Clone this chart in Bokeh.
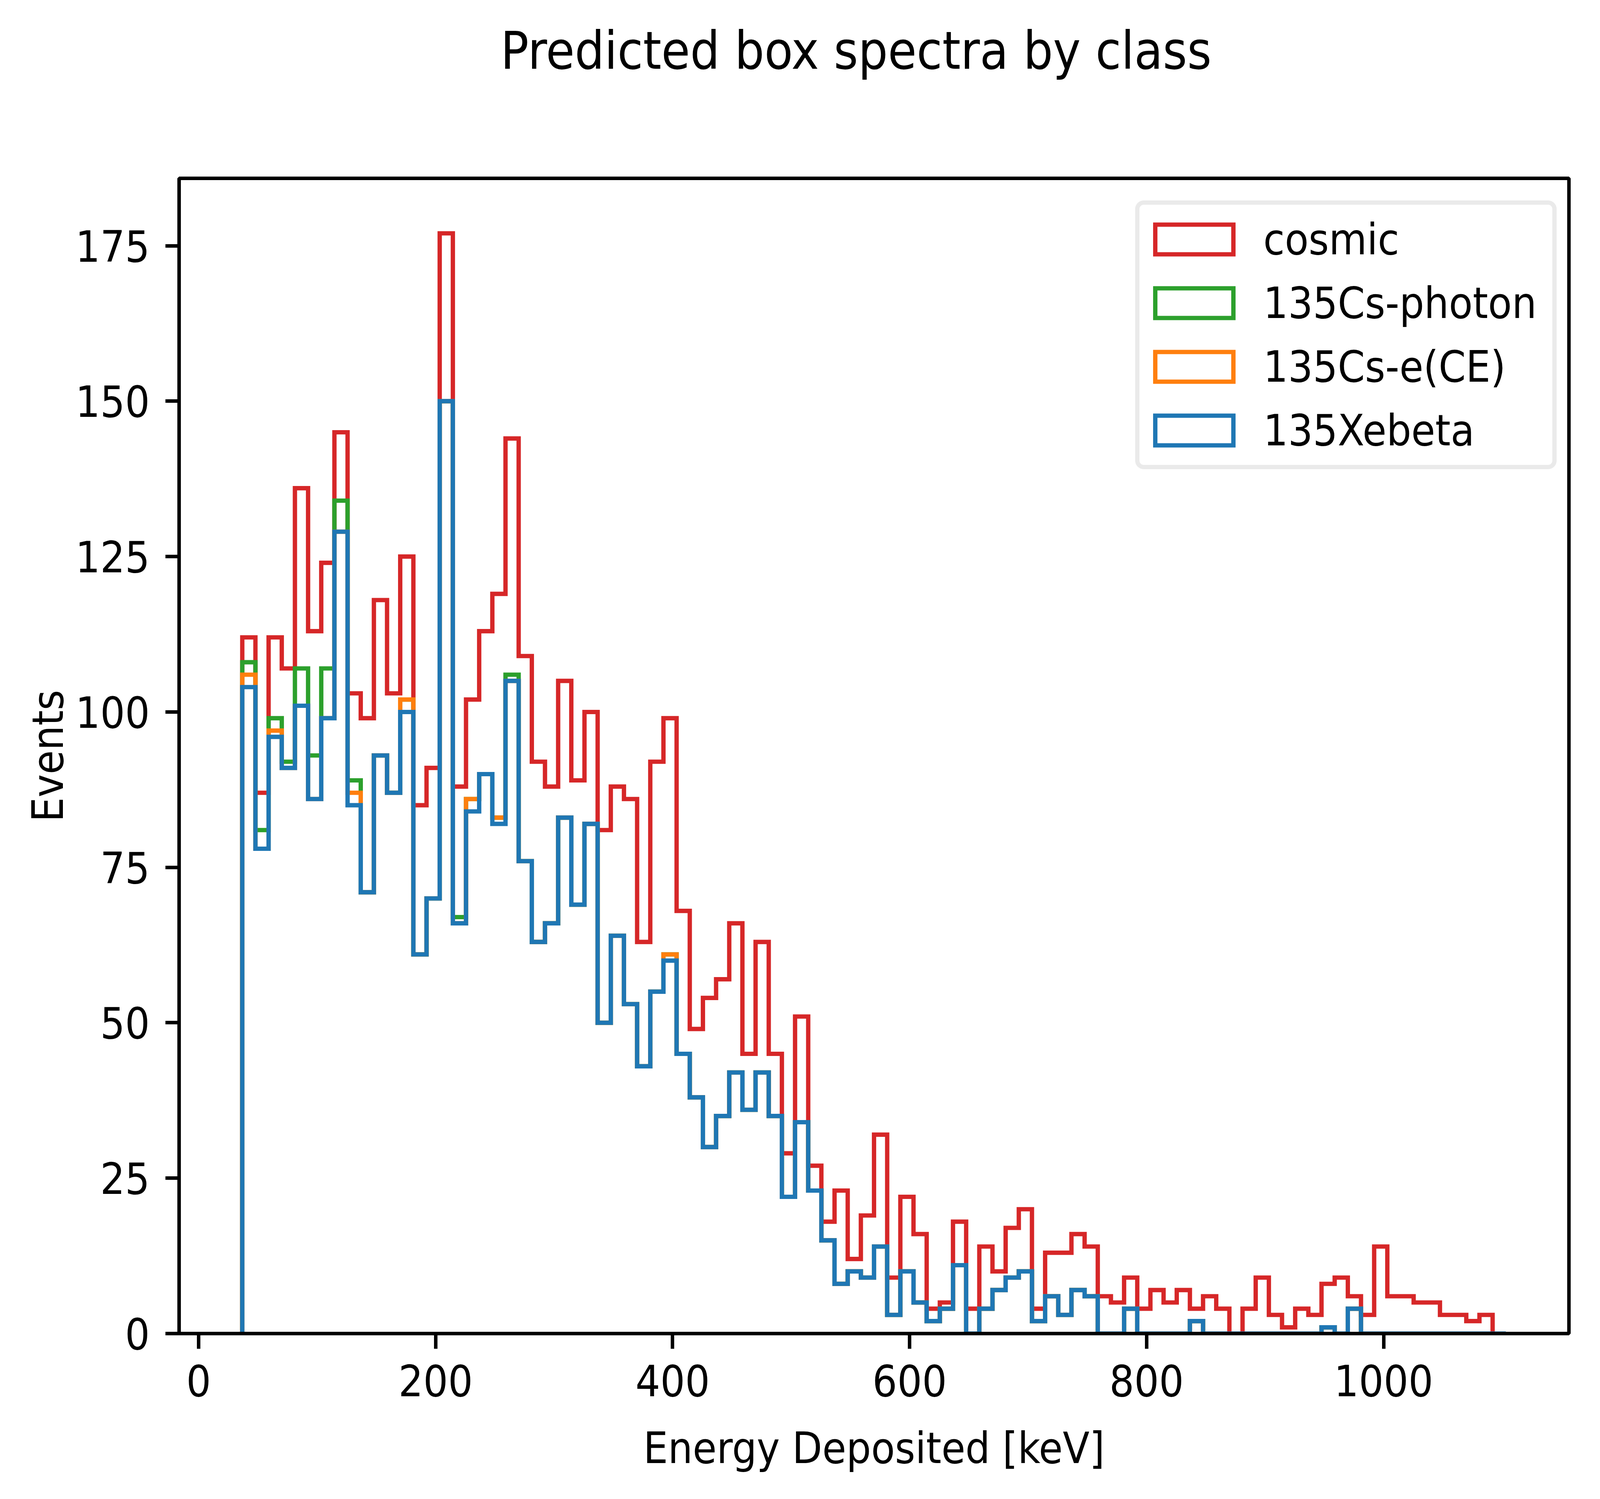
import numpy as np
from bokeh.plotting import figure
from bokeh.models import Range1d, FixedTicker, Legend, LegendItem, Title, ColumnDataSource
from bokeh.embed import file_html
from bokeh.resources import INLINE

# ---- data -------------------------------------------------------------
title_text = "Predicted box spectra by class"
x_label = "Energy Deposited [keV]"
y_label = "Events"
x_ticks = [0, 200, 400, 600, 800, 1000]
y_ticks = [0, 25, 50, 75, 100, 125, 150, 175]

bin_first_edge = 36.8
bin_last_edge = 1103.1
n_bins = 96

classes = ["135Xebeta", "135Cs-e(CE)", "135Cs-photon", "cosmic"]   # stacking order (bottom -> top)
colors = ["#1f77b4", "#ff7f0e", "#2ca02c", "#d62728"]

xebeta = [104, 78, 96, 91, 101, 86, 99, 129, 85, 71, 93, 87, 100, 61, 70, 150, 66, 84, 90, 82,
          105, 76, 63, 66, 83, 69, 82, 50, 64, 53, 43, 55, 60, 45, 38, 30, 35, 42, 36, 42,
          35, 22, 34, 23, 15, 8, 10, 9, 14, 3, 10, 5, 2, 4, 11, 0, 4, 7, 9, 10,
          2, 6, 3, 7, 6, 0, 0, 4, 0, 0, 0, 0, 2, 0, 0, 0, 0, 0, 0, 0,
          0, 0, 1, 0, 4, 0, 0, 0, 0, 0, 0, 0, 0, 0, 0, 0]
cs_e = [2, 0, 1, 0, 0, 0, 0, 0, 2, 0, 0, 0, 2, 0, 0, 0, 0, 2, 0, 1,
        0, 0, 0, 0, 0, 0, 0, 0, 0, 0, 0, 0, 1, 0, 0, 0, 0, 0, 0, 0,
        0, 0, 0, 0, 0, 0, 0, 0, 0, 0, 0, 0, 0, 0, 0, 0, 0, 0, 0, 0,
        0, 0, 0, 0, 0, 0, 0, 0, 0, 0, 0, 0, 0, 0, 0, 0, 0, 0, 0, 0,
        0, 0, 0, 0, 0, 0, 0, 0, 0, 0, 0, 0, 0, 0, 0, 0]
cs_photon = [2, 3, 2, 1, 6, 7, 8, 5, 2, 0, 0, 0, 0, 0, 0, 0, 1, 0, 0, 0,
             1, 0, 0, 0, 0, 0, 0, 0, 0, 0, 0, 0, 0, 0, 0, 0, 0, 0, 0, 0,
             0, 0, 0, 0, 0, 0, 0, 0, 0, 0, 0, 0, 0, 0, 0, 0, 0, 0, 0, 0,
             0, 0, 0, 0, 0, 0, 0, 0, 0, 0, 0, 0, 0, 0, 0, 0, 0, 0, 0, 0,
             0, 0, 0, 0, 0, 0, 0, 0, 0, 0, 0, 0, 0, 0, 0, 0]
cosmic = [4, 6, 13, 15, 29, 20, 17, 11, 14, 28, 25, 16, 23, 24, 21, 27, 21, 16, 23, 36,
          38, 33, 29, 22, 22, 20, 18, 31, 24, 33, 20, 37, 38, 23, 11, 24, 22, 24, 9, 21,
          10, 7, 17, 4, 3, 15, 2, 10, 18, 6, 12, 11, 2, 1, 7, 4, 10, 3, 8, 10,
          2, 7, 10, 9, 8, 6, 5, 5, 4, 7, 5, 7, 2, 6, 4, 0, 4, 9, 3, 1,
          4, 3, 7, 9, 2, 3, 14, 6, 6, 5, 5, 3, 3, 2, 3, 0]

# ---- derived ----------------------------------------------------------
edges = np.linspace(bin_first_edge, bin_last_edge, n_bins + 1)
stack = np.cumsum(np.array([xebeta, cs_e, cs_photon, cosmic], dtype=float), axis=0)

span = bin_last_edge - bin_first_edge
x_lo, x_hi = bin_first_edge - 0.05 * span, bin_last_edge + 0.05 * span
y_hi = stack[-1].max() * 1.05

PT = 800 / 72.0
FONT = "'DejaVu Sans Condensed', 'DejaVu Sans'"
FS = "%dpx" % round(10 * PT)

p = figure(width=4080, height=3821,
           min_border_left=458, min_border_right=64, min_border_top=456, min_border_bottom=408,
           x_range=Range1d(x_lo, x_hi), y_range=Range1d(0, y_hi),
           output_backend="svg", toolbar_location=None)
p.background_fill_color = "white"
p.border_fill_color = "white"
p.grid.visible = False
p.outline_line_color = "black"
p.outline_line_width = 0.8 * PT
p.outline_line_alpha = 1.0

# title (outermost) + an invisible spacer title that lifts it well above the frame
p.title.text = title_text
p.title.align = "left"
p.title.offset = 823
p.title.vertical_align = "bottom"
p.title.standoff = 0
p.title.text_font = FONT
p.title.text_font_size = "%dpx" % round(12 * PT)
p.title.text_font_style = "normal"
p.title.text_color = "black"
spacer = Title(text=" ", text_font_size="10px", standoff=237, text_color="white")
p.add_layout(spacer, "above")

for ax in (p.xaxis[0], p.yaxis[0]):
    ax.axis_line_width = 0.8 * PT
    ax.major_tick_line_width = 0.8 * PT
    ax.major_tick_in = 0
    ax.minor_tick_line_color = None
    ax.major_label_text_font = FONT
    ax.major_label_text_font_size = FS
    ax.major_label_text_color = "black"
    ax.axis_label_text_font = FONT
    ax.axis_label_text_font_size = FS
    ax.axis_label_text_font_style = "normal"
    ax.axis_label_text_color = "black"

p.xaxis[0].major_tick_out = 39
p.yaxis[0].major_tick_out = 35
p.xaxis[0].ticker = FixedTicker(ticks=x_ticks)
p.yaxis[0].ticker = FixedTicker(ticks=y_ticks)
p.xaxis[0].axis_label = x_label
p.yaxis[0].axis_label = y_label
p.xaxis[0].major_label_standoff = 40
p.xaxis[0].axis_label_standoff = 65
p.yaxis[0].major_label_standoff = 40
p.yaxis[0].axis_label_standoff = 3

# step outlines: top layer first so lower layers end up drawn on top (as matplotlib does)
for i in reversed(range(len(classes))):
    cum = stack[i]
    xs = np.repeat(edges, 2)
    ys = np.concatenate([[0.0], np.repeat(cum, 2), [0.0]])
    p.line(xs, ys, line_color=colors[i], line_width=1.0 * PT, line_join="miter", line_cap="butt")

# legend handles (unfilled rectangles like matplotlib patches); no visible data
legend_items = []
for i in reversed(range(len(classes))):
    src = ColumnDataSource(dict(left=[np.nan], right=[np.nan], top=[np.nan], bottom=[np.nan]))
    r = p.quad(left="left", right="right", top="top", bottom="bottom", source=src,
               fill_alpha=0, line_color=colors[i], line_width=1.0 * PT, line_join="miter")
    legend_items.append(LegendItem(label=classes[i], renderers=[r]))

legend = Legend(items=legend_items, location=(2448, 2212),
                glyph_width=250, glyph_height=95, label_standoff=52, label_width=725,
                label_height=147, padding=15, spacing=16, margin=0,
                border_line_color="#d6d6d6", border_line_width=1.0 * PT,
                background_fill_color="white", background_fill_alpha=1.0,
                label_text_font=FONT, label_text_font_size=FS, label_text_color="black")
if "border_radius" in Legend.properties():
    legend.border_radius = 22
p.add_layout(legend)

open("out.html", "w").write(file_html(p, INLINE))
